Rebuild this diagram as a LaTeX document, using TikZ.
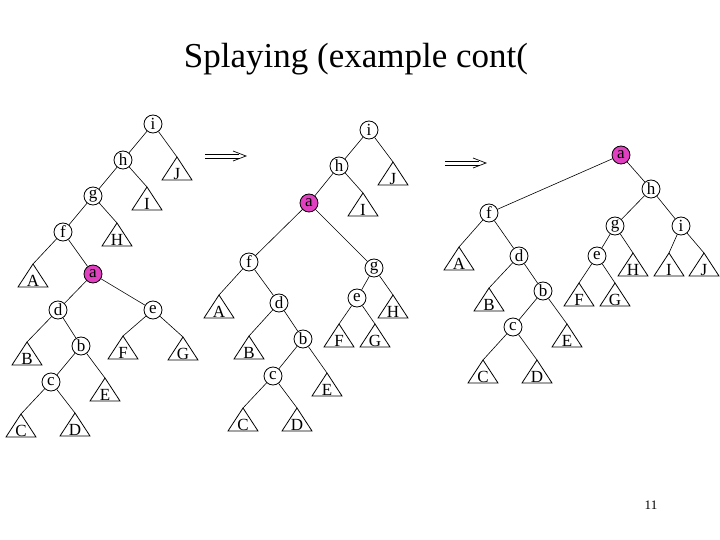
\documentclass[tikz,border=0pt]{standalone}
\usepackage{fontspec}
\setmainfont{Liberation Serif}
\definecolor{pinkc}{RGB}{224,64,192}
\tikzset{
  nd/.style={circle,draw,line width=0.8pt,minimum size=18pt,inner sep=0pt,font=\fontsize{17}{17}\selectfont},
  hot/.style={nd,fill=pinkc},
  tri/.style={line width=0.8pt},
  tlab/.style={anchor=base,inner sep=0pt,font=\fontsize{17}{17}\selectfont},
  edge/.style={line width=0.6pt},
}
\newcommand{\tri}[4]{%
  \coordinate (#1) at (#2,#3);
  \draw[tri] (#1) -- ++(-15,23) -- ++(30,0) -- cycle;
  \node[tlab] (#1l) at (#2,#3+22.5) {#4};}
\newcommand{\darrow}[3]{%
  \coordinate (#1s) at (#2,#3);
  \coordinate (#1e) at (#2+41,#3);
  \draw[line width=0.7pt] ($(#1s)+(0,-2)$) -- ($(#1e)+(-7,-2)$);
  \draw[line width=0.7pt] ($(#1s)+(0,2)$) -- ($(#1e)+(-7,2)$);
  \draw[line width=0.7pt] ($(#1e)+(-13,-5)$) -- (#1e) -- ($(#1e)+(-13,5)$);}
\usetikzlibrary{calc}
\begin{document}
\begin{tikzpicture}[x=1pt,y=-1pt]
\useasboundingbox (0,0) rectangle (720,540);
\node[anchor=base,font=\fontsize{35}{35}\selectfont] (title) at (356,68) {Splaying (example cont(};
\node[font=\fontsize{13}{13}\selectfont] (pg) at (651,505) {11};

% ---------- tree 1 ----------
\node[nd] (i1) at (153,124) {i};
\node[nd] (h1) at (123,160) {h};
\node[nd] (g1) at (93,196) {g};
\node[nd] (f1) at (63,232) {f};
\node[hot] (a1) at (93,274) {a};
\node[nd] (d1) at (58,310) {d};
\node[nd] (e1) at (153,310) {e};
\node[nd] (b1) at (81,346) {b};
\node[nd] (c1) at (51,382) {c};
\tri{J1}{177}{157}{J}
\tri{I1}{147}{187}{I}
\tri{H1}{117}{223}{H}
\tri{A1}{33}{264}{A}
\tri{B1}{27}{342}{B}
\tri{F1}{123}{336}{F}
\tri{G1}{183}{337}{G}
\tri{E1}{105}{378}{E}
\tri{C1}{21}{414}{C}
\tri{D1}{75}{413}{D}
\draw[edge] (i1) -- (h1); \draw[edge] (i1) -- (J1);
\draw[edge] (h1) -- (g1); \draw[edge] (h1) -- (I1);
\draw[edge] (g1) -- (f1); \draw[edge] (g1) -- (H1);
\draw[edge] (f1) -- (A1); \draw[edge] (f1) -- (a1);
\draw[edge] (a1) -- (d1); \draw[edge] (a1) -- (e1);
\draw[edge] (d1) -- (B1); \draw[edge] (d1) -- (b1);
\draw[edge] (b1) -- (c1); \draw[edge] (b1) -- (E1);
\draw[edge] (c1) -- (C1); \draw[edge] (c1) -- (D1);
\draw[edge] (e1) -- (F1); \draw[edge] (e1) -- (G1);

\darrow{ar1}{205}{156}

% ---------- tree 2 ----------
\node[nd] (i2) at (369,130) {i};
\node[nd] (h2) at (339,166) {h};
\node[hot] (a2) at (309,203) {a};
\node[nd] (f2) at (249,262) {f};
\node[nd] (g2) at (374,268) {g};
\node[nd] (d2) at (279,303) {d};
\node[nd] (e2) at (357,298) {e};
\node[nd] (b2) at (303,339) {b};
\node[nd] (c2) at (273,376) {c};
\tri{J2}{393}{162}{J}
\tri{I2}{363}{193}{I}
\tri{A2}{219}{295}{A}
\tri{H2}{393}{295}{H}
\tri{B2}{249}{336}{B}
\tri{F2}{339}{324}{F}
\tri{G2}{375}{324}{G}
\tri{E2}{327}{373}{E}
\tri{C2}{243}{408}{C}
\tri{D2}{297}{408}{D}
\draw[edge] (i2) -- (h2); \draw[edge] (i2) -- (J2);
\draw[edge] (h2) -- (a2); \draw[edge] (h2) -- (I2);
\draw[edge] (a2) -- (f2); \draw[edge] (a2) -- (g2);
\draw[edge] (f2) -- (A2); \draw[edge] (f2) -- (d2);
\draw[edge] (d2) -- (B2); \draw[edge] (d2) -- (b2);
\draw[edge] (b2) -- (c2); \draw[edge] (b2) -- (E2);
\draw[edge] (c2) -- (C2); \draw[edge] (c2) -- (D2);
\draw[edge] (g2) -- (e2); \draw[edge] (g2) -- (H2);
\draw[edge] (e2) -- (F2); \draw[edge] (e2) -- (G2);

\darrow{ar2}{445}{163}

% ---------- tree 3 ----------
\node[hot] (a3) at (621,155) {a};
\node[nd] (h3) at (651,189) {h};
\node[nd] (f3) at (489,213) {f};
\node[nd] (g3) at (615,226) {g};
\node[nd] (i3) at (681,226) {i};
\node[nd] (d3) at (519,256) {d};
\node[nd] (e3) at (597,256) {e};
\node[nd] (b3) at (543,291) {b};
\node[nd] (c3) at (513,327) {c};
\tri{A3}{459}{247}{A}
\tri{H3}{633}{253}{H}
\tri{I3}{669}{253}{I}
\tri{J3}{704}{253}{J}
\tri{B3}{489}{288}{B}
\tri{F3}{579}{283}{F}
\tri{G3}{615}{283}{G}
\tri{E3}{567}{324}{E}
\tri{C3}{483}{360}{C}
\tri{D3}{537}{360}{D}
\draw[edge] (a3) -- (f3); \draw[edge] (a3) -- (h3);
\draw[edge] (h3) -- (g3); \draw[edge] (h3) -- (i3);
\draw[edge] (f3) -- (A3); \draw[edge] (f3) -- (d3);
\draw[edge] (d3) -- (B3); \draw[edge] (d3) -- (b3);
\draw[edge] (b3) -- (c3); \draw[edge] (b3) -- (E3);
\draw[edge] (c3) -- (C3); \draw[edge] (c3) -- (D3);
\draw[edge] (g3) -- (e3); \draw[edge] (g3) -- (H3);
\draw[edge] (e3) -- (F3); \draw[edge] (e3) -- (G3);
\draw[edge] (i3) -- (I3); \draw[edge] (i3) -- (J3);
\end{tikzpicture}
\end{document}
